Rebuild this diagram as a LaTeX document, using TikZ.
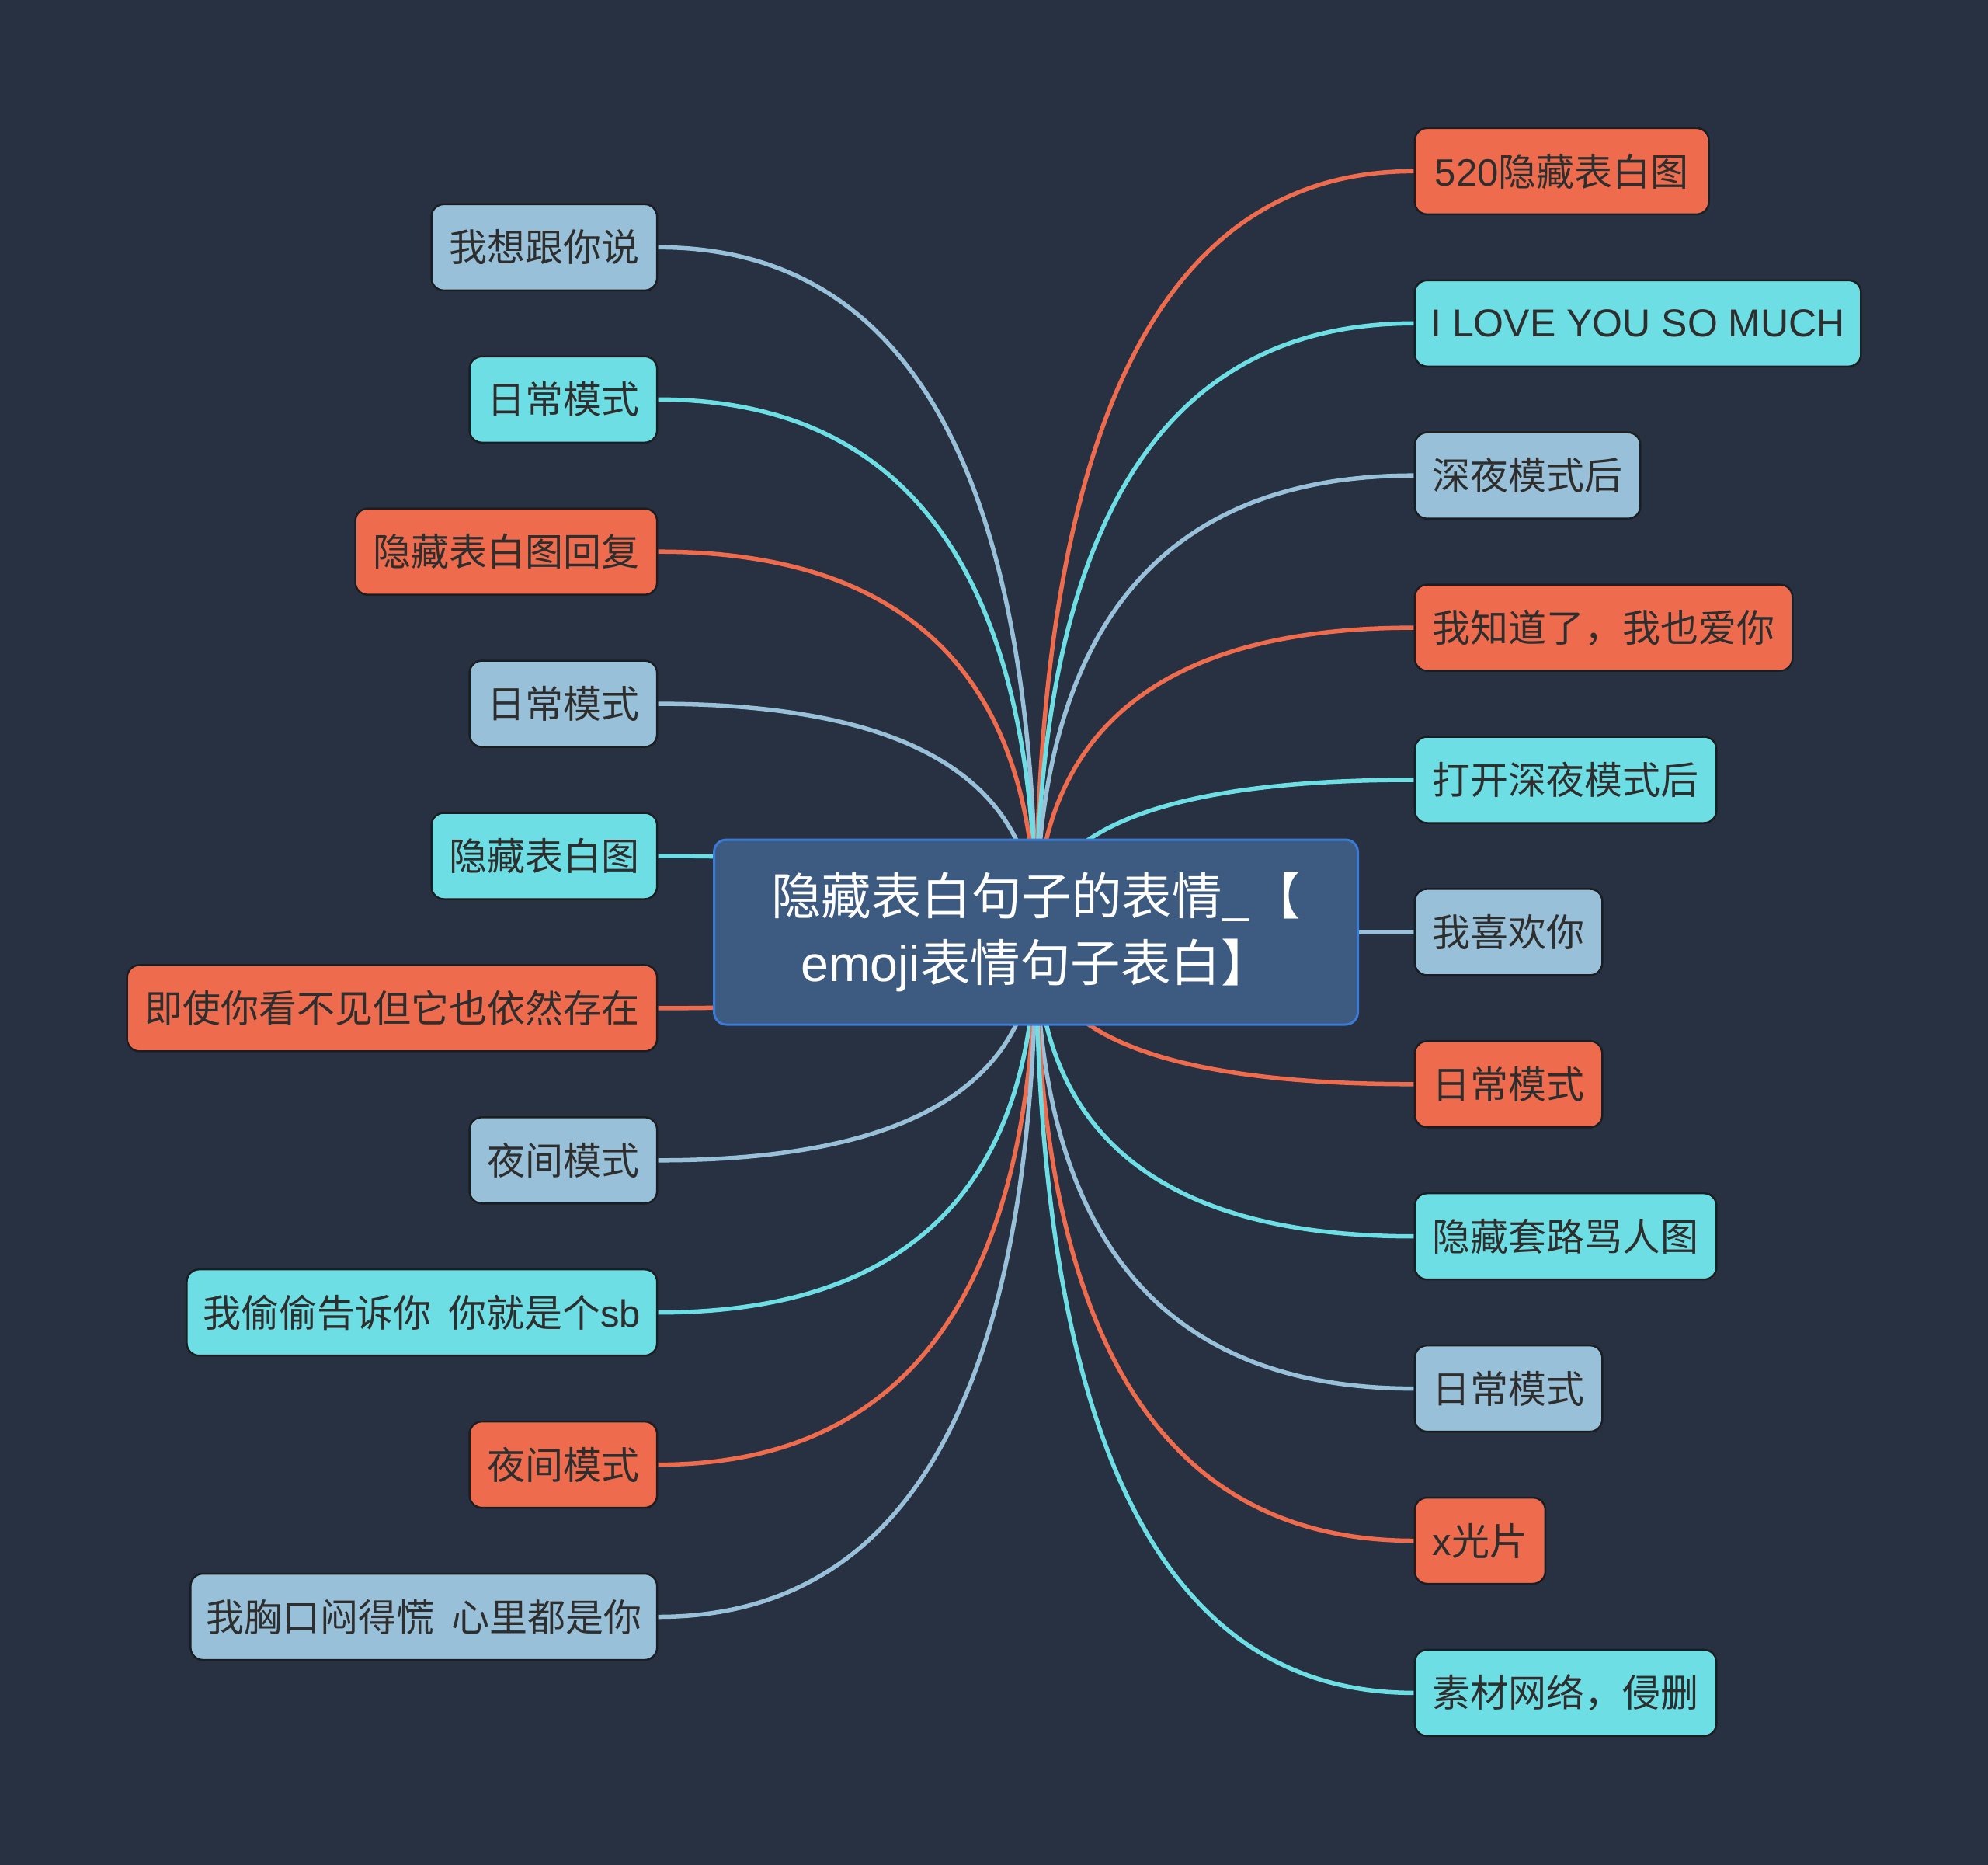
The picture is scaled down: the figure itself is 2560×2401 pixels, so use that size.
\documentclass[tikz,border=0pt]{standalone}
\usepackage{fontspec}
\setmainfont{Noto Sans CJK SC}
\newfontfamily\lat{Liberation Sans}
\usetikzlibrary{calc}
\definecolor{bgc}{HTML}{283142}
\definecolor{orng}{HTML}{EE6C4D}
\definecolor{lb}{HTML}{98C1D9}
\definecolor{cy}{HTML}{6DDFE4}
\definecolor{txt}{HTML}{2E2E2E}
\definecolor{nodeborder}{HTML}{1A1D22}
\definecolor{rootfill}{HTML}{3D5A80}
\definecolor{rootborder}{HTML}{3A7BD5}
\pgfdeclarelayer{bgzero}
\pgfdeclarelayer{background}
\pgfsetlayers{bgzero,background,main}
\begin{document}
\begin{tikzpicture}[x=1pt,y=-1pt,
  leaf/.style={draw=nodeborder, line width=2.5pt, rounded corners=16pt,
    minimum height=111pt, inner sep=0pt, text=txt,
    font=\fontsize{49}{58}\selectfont},
  lnode/.style={leaf, anchor=east},
  rnode/.style={leaf, anchor=west},
  conn/.style={line width=5.5pt}]
\begin{pgfonlayer}{bgzero}
\fill[bgc] (0,0) rectangle (2560,2401);
\end{pgfonlayer}
\useasboundingbox (0,0) rectangle (2560,2401);

\node[draw=rootborder, fill=rootfill, line width=3pt, rounded corners=16pt,
  minimum width=829pt, minimum height=238pt, inner sep=0pt, text=white, align=center,
  font=\fontsize{64.5}{86.5}\selectfont] (root) at (1334,1200)
  {隐藏表白句子的表情\_【\\{\lat emoji}表情句子表白】};

% left nodes
\node[lnode, fill=lb,   minimum width=290.6pt] (l1)  at (847.4, 318.4) {我想跟你说};
\node[lnode, fill=cy,   minimum width=241.6pt] (l2)  at (847.4, 514.3) {日常模式};
\node[lnode, fill=orng, minimum width=388.6pt] (l3)  at (847.4, 710.2) {隐藏表白图回复};
\node[lnode, fill=lb,   minimum width=241.6pt] (l4)  at (847.4, 906.1) {日常模式};
\node[lnode, fill=cy,   minimum width=290.6pt] (l5)  at (847.4,1102.0) {隐藏表白图};
\node[lnode, fill=orng, minimum width=682.5pt] (l6)  at (847.4,1297.9) {即使你看不见但它也依然存在};
\node[lnode, fill=lb,   minimum width=241.6pt] (l7)  at (847.4,1493.8) {夜间模式};
\node[lnode, fill=cy,   minimum width=605.7pt] (l8)  at (847.4,1689.7) {我偷偷告诉你\ \ 你就是个{\lat sb}};
\node[lnode, fill=orng, minimum width=241.6pt] (l9)  at (847.4,1885.6) {夜间模式};
\node[lnode, fill=lb,   minimum width=600.8pt] (l10) at (847.4,2081.5) {我胸口闷得慌\ \ 心里都是你};

% right nodes
\node[rnode, fill=orng, minimum width=378.8pt] (r1)  at (1820.5, 220.4) {{\lat 520}隐藏表白图};
\node[rnode, fill=cy,   minimum width=574.7pt] (r2)  at (1820.5, 416.3) {\lat\fontsize{50}{58}\selectfont I LOVE YOU SO MUCH};
\node[rnode, fill=lb,   minimum width=290.6pt] (r3)  at (1820.5, 612.2) {深夜模式后};
\node[rnode, fill=orng, minimum width=486.5pt] (r4)  at (1820.5, 808.1) {我知道了，我也爱你};
\node[rnode, fill=cy,   minimum width=388.6pt] (r5)  at (1820.5,1004.0) {打开深夜模式后};
\node[rnode, fill=lb,   minimum width=241.6pt] (r6)  at (1820.5,1199.9) {我喜欢你};
\node[rnode, fill=orng, minimum width=241.6pt] (r7)  at (1820.5,1395.8) {日常模式};
\node[rnode, fill=cy,   minimum width=388.6pt] (r8)  at (1820.5,1591.7) {隐藏套路骂人图};
\node[rnode, fill=lb,   minimum width=241.6pt] (r9)  at (1820.5,1787.6) {日常模式};
\node[rnode, fill=orng, minimum width=168.2pt] (r10) at (1820.5,1983.5) {{\lat x}光片};
\node[rnode, fill=cy,   minimum width=388.6pt] (r11) at (1820.5,2179.4) {素材网络，侵删};

\begin{pgfonlayer}{background}
\foreach \n/\c in {l1/lb,l2/cy,l3/orng,l4/lb,l5/cy,l6/orng,l7/lb,l8/cy,l9/orng,l10/lb}
  \draw[conn, draw=\c] (root.center)
    .. controls ($(root.center)!0.6667!(root.center|-\n.east)$)
       and ($(\n.east)!0.6667!(root.center|-\n.east)$) .. (\n.east);
\foreach \n/\c in {r1/orng,r2/cy,r3/lb,r4/orng,r5/cy,r6/lb,r7/orng,r8/cy,r9/lb,r10/orng,r11/cy}
  \draw[conn, draw=\c] (root.center)
    .. controls ($(root.center)!0.6667!(root.center|-\n.west)$)
       and ($(\n.west)!0.6667!(root.center|-\n.west)$) .. (\n.west);
\end{pgfonlayer}
\end{tikzpicture}
\end{document}
